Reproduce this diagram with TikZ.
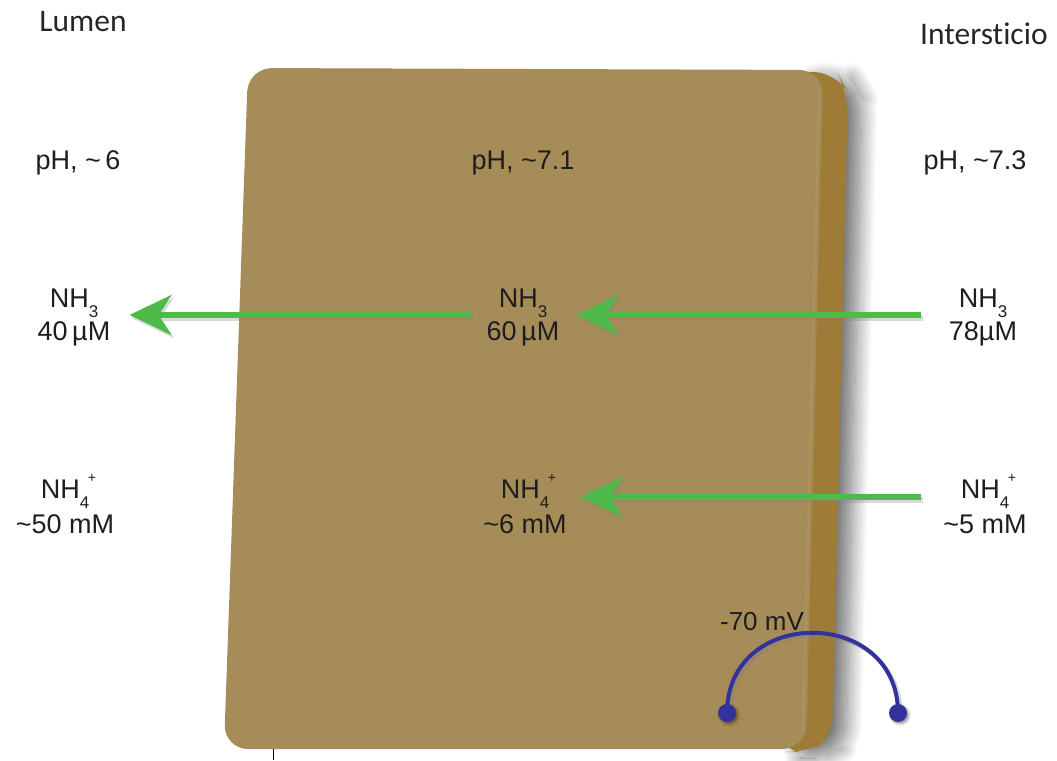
\documentclass[tikz,border=0pt]{standalone}
\usepackage{fontspec}
\setmainfont{Liberation Sans}
\newfontfamily\labelfont[Ligatures=NoCommon]{Carlito}
\usetikzlibrary{arrows.meta,shadows.blur,calc}

\definecolor{cellfront}{RGB}{166,140,88}
\definecolor{cellside}{RGB}{158,124,56}
\definecolor{cellrim}{RGB}{178,152,100}
\definecolor{fluxgreen}{RGB}{78,186,74}
\definecolor{probeblue}{RGB}{50,50,155}
\definecolor{inktext}{RGB}{30,30,30}

% chemical formulae with a low subscript and a stacked charge
\newcommand{\lowsub}[1]{\raisebox{-0.36em}{\fontsize{17}{17}\selectfont #1}}
\newcommand{\charge}[1]{\rlap{\hspace{0.3em}\raisebox{0.6em}{\fontsize{14}{14}\selectfont #1}}}

\tikzset{
  conc/.style={font=\fontsize{27}{33}\selectfont, text=inktext, align=center, inner sep=0pt},
  ionconc/.style={conc, font=\fontsize{27}{35}\selectfont},
  region/.style={font=\labelfont\fontsize{31.5}{34}\selectfont, text=black!85, inner sep=0pt},
  flux/.style={draw=fluxgreen, line width=5.5pt,
    -{Stealth[length=42pt, width=40pt, inset=13pt]}},
  fluxshadow/.style={draw=black!50, opacity=0.3, line width=5.5pt,
    -{Stealth[length=42pt, width=40pt, inset=13pt]}},
  probe/.style={draw=probeblue, line width=4pt},
  electrode/.style={circle, fill=probeblue, minimum size=18pt, inner sep=0pt},
}

\begin{document}
\begin{tikzpicture}[x=1pt, y=-1pt]
  \useasboundingbox (0,0) rectangle (1057,760);

  % cell: thick side edge behind the front face, with a soft haze to the right
  \path[fill=cellside, rounded corners=22pt,
        blur shadow={shadow xshift=14pt, shadow yshift=-6pt, shadow blur radius=16pt,
                     shadow blur steps=20, shadow opacity=55}]
    (790,70) -- (838,74) -- (848,92) -- (832,740) -- (808,752) -- (780,752) -- cycle;
  % cell: front face
  \path[fill=cellfront, rounded corners=24pt]
    (248,68) -- (823,70) -- (806,749) -- (224,749) -- cycle;
  \draw[cellrim, line width=1.2pt, opacity=0.8]
    (819,90) -- (803,730);
  % small tick below the cell
  \draw[black, line width=1pt] (273,749) -- (273,760);

  % region titles
  \node[region] (lumen) at (83,22) {Lumen};
  \node[region, anchor=west] (inter) at (920,34) {Intersticio};

  % pH values
  \node[conc] (phL) at (78,163) {pH, \textasciitilde\,6};
  \node[conc] (phC) at (523,163) {pH, \textasciitilde7.1};
  \node[conc] (phR) at (975,163) {pH, \textasciitilde7.3};

  % ammonia concentrations
  \node[conc] (nhL) at (74,318) {NH\lowsub{3}\\40\,µM};
  \node[conc] (nhC) at (523,318) {NH\lowsub{3}\\60\,µM};
  \node[conc] (nhR) at (983,318) {NH\lowsub{3}\\78µM};

  % ammonium concentrations
  \node[ionconc] (naL) at (65,504) {NH\charge{+}\lowsub{4}\\\textasciitilde50 mM};
  \node[ionconc] (naC) at (525,504) {NH\charge{+}\lowsub{4}\\\textasciitilde6 mM};
  \node[ionconc] (naR) at (985,504) {NH\charge{+}\lowsub{4}\\\textasciitilde5 mM};

  % fluxes
  \foreach \a/\b/\sa/\sb/\dy in {nhC/nhL/16/19/-3, nhR/nhC/28/17/-3, naR/naC/22/14/-7}{
    \draw[fluxshadow, shorten <=\sa pt, shorten >=\sb pt]
      ($(\a.west)+(2,\dy+3)$) -- ($(\b.east)+(2,\dy+3)$);
    \draw[flux, shorten <=\sa pt, shorten >=\sb pt]
      ($(\a.west)+(0,\dy)$) -- ($(\b.east)+(0,\dy)$);
  }

  % membrane potential probe
  \node[font=\fontsize{26}{30}\selectfont, text=inktext, inner sep=0pt] (vm) at (762,622) {-70 mV};
  \coordinate (vl) at (727,713);
  \coordinate (vr) at (898,713);
  \draw[probe, draw=black!50, opacity=0.3] ($(vl)+(3,3)$) .. controls +(0,-107) and +(0,-107) .. ($(vr)+(3,3)$);
  \draw[probe] (vl) .. controls +(0,-107) and +(0,-107) .. (vr);
  \node[electrode, blur shadow={shadow xshift=2pt, shadow yshift=-2pt}] (el) at (vl) {};
  \node[electrode, blur shadow={shadow xshift=2pt, shadow yshift=-2pt}] (er) at (vr) {};
\end{tikzpicture}
\end{document}
